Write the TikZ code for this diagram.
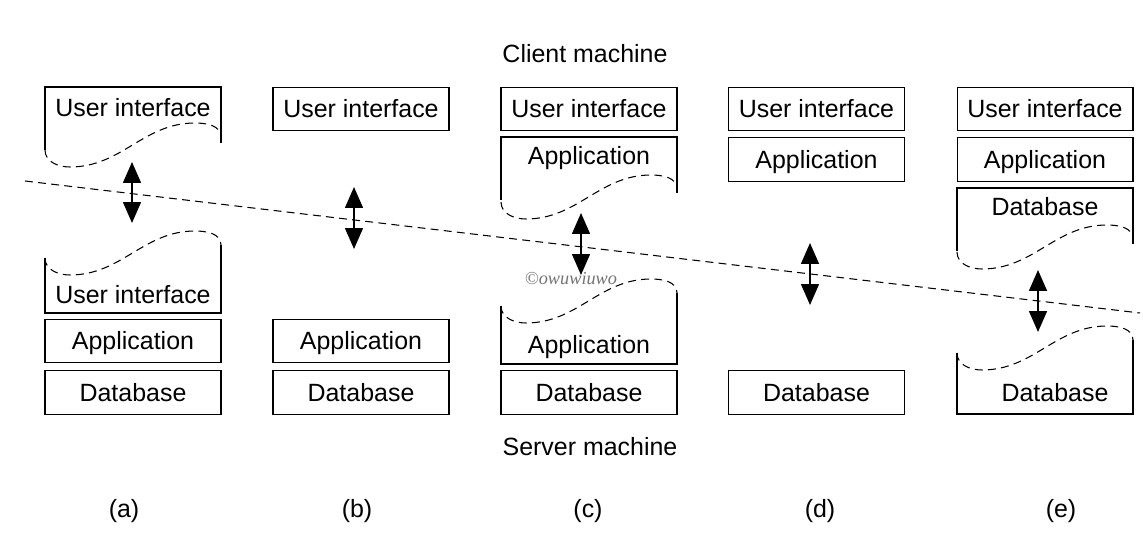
\documentclass[tikz,border=0pt]{standalone}
\usepackage{fontspec}
\setmainfont{Liberation Sans}
\newfontfamily\markfont{Liberation Serif}
\usetikzlibrary{arrows.meta, positioning}

\begin{document}
\begin{tikzpicture}[
  x=0.02cm, y=-0.02cm,
  box/.style={rectangle, draw, line width=0.6pt,
              minimum width=3.52cm, minimum height=0.87cm, inner sep=0pt,
              text height=10.2pt, text depth=0pt},
  lbl/.style={inner sep=0pt},
  edge/.style={line width=0.6pt},
  cut/.style={line width=0.6pt, dash pattern=on 4.5pt off 3pt},
  dblarr/.style={{Triangle[length=0.42cm,width=0.36cm]}-{Triangle[length=0.42cm,width=0.36cm]},
                 line width=0.9pt},
  every node/.style={font=\fontsize{14.2}{17}\selectfont}
]
  \useasboundingbox (0,0) rectangle (1143,560);

  \node[lbl] (client) at (585,54) {Client machine};
  \node[lbl] (server) at (590,447) {Server machine};

  % (a)
  \node[lbl] (a-ui1) at (133,108) {User interface};
  \node[lbl] (a-ui2) at (133,295) {User interface};
  \node[box] (a-db) at (133,392.5) {Database};
  \node[box, above=0.14cm of a-db] (a-app) {Application};

  % (b)
  \node[box] (b-ui) at (361,109) {User interface};
  \node[box] (b-db) at (361,392.5) {Database};
  \node[box, above=0.14cm of b-db] (b-app) {Application};

  % (c)
  \node[box] (c-ui) at (589,109) {User interface};
  \node[lbl] (c-app1) at (589,158) {Application};
  \node[lbl] (c-app2) at (589,347) {Application};
  \node[box] (c-db) at (589,392.5) {Database};

  % (d)
  \node[box] (d-ui) at (816.5,109) {User interface};
  \node[box, below=0.12cm of d-ui] (d-app) {Application};
  \node[box] (d-db) at (816.5,392.5) {Database};

  % (e)
  \node[box] (e-ui) at (1045,109) {User interface};
  \node[box, below=0.12cm of e-ui] (e-app) {Application};
  \node[lbl] (e-db1) at (1045,207) {Database};
  \node[lbl] (e-db2) at (1055,393) {Database};

  % cut-off boxes
  \foreach \l/\t in {45/87, 501/137, 957/188}
    \draw[edge] (\l,\t+63) |- (\l+176,\t) -- (\l+176,\t+56);
  \foreach \l/\w/\b in {45/258/313, 501/306/364, 957/353/414}
    \draw[edge] (\l,\w) |- (\l+176,\b) -- (\l+176,\w-13);
  \foreach \l/\w in {45/150, 45/258, 501/202, 501/306, 957/252, 957/353}
    \draw[cut] (\l,\w) to[out=-90,in=180] ++(25,17)
      to[out=0,in=180] ++(125,-44) to[out=0,in=90] ++(26,14);

  % machine border
  \coordinate (split-l) at (25,181);
  \coordinate (split-r) at (1140,313);
  \draw[cut] (split-l) -- (split-r);

  \coordinate (a-top) at (132,162);  \coordinate (a-bot) at (132,223);
  \coordinate (b-top) at (354,187);  \coordinate (b-bot) at (354,249);
  \coordinate (c-top) at (581,213);  \coordinate (c-bot) at (581,275);
  \coordinate (d-top) at (810,243);  \coordinate (d-bot) at (810,305);
  \coordinate (e-top) at (1038,270); \coordinate (e-bot) at (1038,332);
  \foreach \a in {a,b,c,d,e}
    \draw[dblarr] (\a-top) -- (\a-bot);

  \node[lbl, text=black!55, font=\markfont\itshape\fontsize{10.4}{12}\selectfont]
    (mark) at (571,279) {©owuwiuwo};

  \node[lbl] (cap-a) at (124,511) {(a)};
  \node[lbl] (cap-b) at (357,511) {(b)};
  \node[lbl] (cap-c) at (588,511) {(c)};
  \node[lbl] (cap-d) at (820,511) {(d)};
  \node[lbl] (cap-e) at (1061,511) {(e)};
\end{tikzpicture}
\end{document}
